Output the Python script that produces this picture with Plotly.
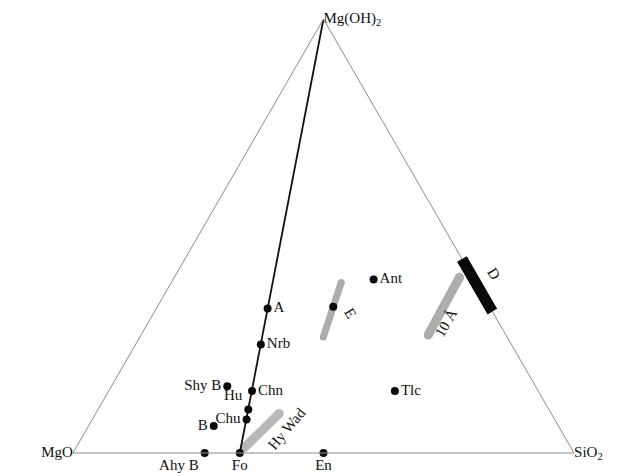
import math
import plotly.graph_objects as go

# Compositions as molar fractions: a = Mg(OH)2, c = SiO2, MgO is the remainder
phase_names = ["Ahy B", "Fo", "En", "B", "Chu", "Hu", "Chn", "Shy B", "Nrb", "A", "E", "Ant", "Tlc"]
phase_mgoh2 = [0.0, 0.0, 0.0, 0.062, 0.077, 0.100, 0.143, 0.154, 0.250, 0.333, 0.337, 0.400, 0.143]
phase_sio2 = [0.263, 0.333, 0.500, 0.250, 0.308, 0.300, 0.286, 0.231, 0.250, 0.222, 0.351, 0.400, 0.571]

# Fo - Mg(OH)2 join (humite series)
join_mgoh2 = [0.0, 1.0]
join_sio2 = [0.333, 0.0]

# Solid-solution ranges
hywad_mgoh2 = [0.012, 0.091]
hywad_sio2 = [0.336, 0.366]
phase_e_mgoh2 = [0.267, 0.393]
phase_e_sio2 = [0.366, 0.339]
ten_a_mgoh2 = [0.272, 0.405]
ten_a_sio2 = [0.573, 0.569]
phase_d_mgoh2 = [0.326, 0.447]
phase_d_sio2 = [0.674, 0.553]

corner_names = ["Mg(OH)<sub>2</sub>", "MgO", "SiO<sub>2</sub>"]
corner_mgoh2 = [1.0, 0.0, 0.0]
corner_sio2 = [0.0, 0.0, 1.0]

# Rotated labels for the ranges
range_labels = ["Hy Wad", "E", "10 Å", "D"]
range_label_mgoh2 = [0.056, 0.323, 0.300, 0.412]
range_label_sio2 = [0.398, 0.392, 0.594, 0.634]
range_label_angle = [-50, 60, -60, 58]

label_pos = {
    "Ahy B": "bottom left", "Fo": "bottom center", "En": "bottom center",
    "B": "middle left", "Chu": "middle left", "Hu": "top left",
    "Chn": "middle right", "Shy B": "middle left", "Nrb": "middle right",
    "A": "middle right", "E": "middle right", "Ant": "middle right",
    "Tlc": "middle right",
}

W, H = 631, 476
DOM_X = [0.0990, 0.9263]
DOM_Y = [0.0483, 0.9601]
FONT = dict(family="Liberation Serif, Times New Roman, serif", size=15, color="#111")


def mgo(a_list, c_list):
    return [1 - a - c for a, c in zip(a_list, c_list)]


def paper_xy(a, c):
    # Position inside the ternary subplot, in paper fractions
    h = (DOM_Y[1] - DOM_Y[0]) * H
    w = h * 2 / math.sqrt(3)
    cx = (DOM_X[0] + DOM_X[1]) / 2 * W
    cy = (DOM_Y[0] + DOM_Y[1]) / 2 * H
    x = cx - w / 2 + w * (c + a / 2)
    y = cy - h / 2 + h * a
    return x / W, y / H


fig = go.Figure()


def band(a_list, c_list, color, width):
    fig.add_trace(go.Scatterternary(
        a=a_list, b=mgo(a_list, c_list), c=c_list,
        mode="lines+markers",
        line=dict(color=color, width=width),
        marker=dict(color=color, size=width),
        cliponaxis=False, hoverinfo="skip",
    ))


band(hywad_mgoh2, hywad_sio2, "#b8b8b8", 9)
band(phase_e_mgoh2, phase_e_sio2, "#adadad", 7)
band(ten_a_mgoh2, ten_a_sio2, "#adadad", 9)

fig.add_trace(go.Scatterternary(
    a=join_mgoh2, b=mgo(join_mgoh2, join_sio2), c=join_sio2,
    mode="lines", line=dict(color="#111", width=1.8),
    cliponaxis=False, hoverinfo="skip",
))

# Phase D sits on the SiO2 - Mg(OH)2 edge; lines are clipped to the triangle,
# so the bar body is drawn as a paper-space shape over the rounded end caps
band(phase_d_mgoh2, phase_d_sio2, "#0a0a0a", 11)
d0 = paper_xy(phase_d_mgoh2[0], phase_d_sio2[0])
d1 = paper_xy(phase_d_mgoh2[1], phase_d_sio2[1])
fig.add_shape(
    type="line", xref="paper", yref="paper",
    x0=d0[0], y0=d0[1], x1=d1[0], y1=d1[1],
    line=dict(color="#0a0a0a", width=11), layer="above",
)

# Phases whose name is written along their range get no upright label
point_text = ["" if n in range_labels else n for n in phase_names]

fig.add_trace(go.Scatterternary(
    a=phase_mgoh2, b=mgo(phase_mgoh2, phase_sio2), c=phase_sio2,
    mode="markers+text",
    text=point_text,
    textposition=[label_pos[n] for n in phase_names],
    textfont=FONT,
    marker=dict(color="#0a0a0a", size=8),
    cliponaxis=False,
))

fig.add_trace(go.Scatterternary(
    a=corner_mgoh2, b=mgo(corner_mgoh2, corner_sio2), c=corner_sio2,
    mode="text", text=corner_names,
    textposition=["middle right", "middle left", "middle right"],
    textfont=FONT, cliponaxis=False, hoverinfo="skip",
))

for txt, a, c, ang in zip(range_labels, range_label_mgoh2, range_label_sio2, range_label_angle):
    px, py = paper_xy(a, c)
    fig.add_annotation(
        x=px, y=py, xref="paper", yref="paper", text=txt, textangle=ang,
        showarrow=False, font=FONT, xanchor="center", yanchor="middle",
    )

axis_style = dict(
    showticklabels=False, ticks="", showgrid=False,
    linecolor="#8c8c8c", linewidth=1, title=dict(text=""),
)

fig.update_layout(
    width=W, height=H,
    margin=dict(l=0, r=0, t=0, b=0),
    paper_bgcolor="white",
    showlegend=False,
    ternary=dict(
        sum=1,
        domain=dict(x=DOM_X, y=DOM_Y),
        bgcolor="white",
        aaxis=axis_style, baxis=axis_style, caxis=axis_style,
    ),
)

fig.write_html("out.html")
